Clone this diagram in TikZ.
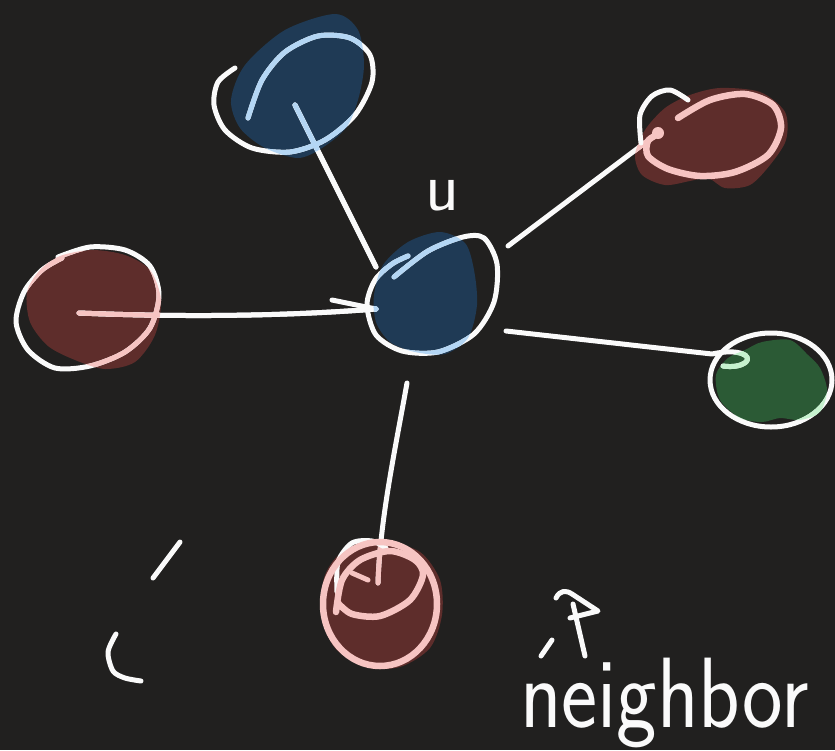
\documentclass[tikz,border=0pt]{standalone}
\usepackage{fontspec}
\definecolor{board}{RGB}{33,32,31}
\definecolor{chalk}{RGB}{250,250,250}
\definecolor{bluefill}{RGB}{31,58,85}
\definecolor{bluelight}{RGB}{180,214,244}
\definecolor{redfill}{RGB}{94,45,43}
\definecolor{pinklight}{RGB}{246,196,194}
\definecolor{greenfill}{RGB}{43,90,53}
\definecolor{greenlight}{RGB}{198,242,206}

% filled patches behind each vertex
\newcommand\patchTop[1]{\path[#1] plot[smooth cycle] coordinates {(335,14) (358,30) (364,65) (358,100) (346,128) (322,148) (298,158) (265,148) (240,128) (231,100) (245,65) (285,30)};}
\newcommand\patchU[1]{\path[#1] plot[smooth cycle] coordinates {(440,232) (465,243) (474,270) (477,305) (468,338) (445,354) (415,352) (390,342) (376,322) (374,295) (383,265) (408,242)};}
\newcommand\patchLeft[1]{\path[#1] plot[smooth cycle] coordinates {(60,256) (92,250) (125,255) (150,270) (161,300) (155,335) (135,362) (105,369) (75,360) (48,346) (30,322) (27,292) (40,270)};}
\newcommand\patchRight[1]{\path[#1] plot[smooth cycle] coordinates {(690,95) (720,88) (760,92) (785,112) (786,140) (770,165) (750,185) (725,188) (708,178) (690,181) (665,185) (642,175) (635,155) (645,130) (665,108)};}
\newcommand\patchGreen[1]{\path[#1] plot[smooth cycle] coordinates {(762,342) (790,340) (808,355) (820,368) (827,390) (820,412) (800,420) (780,418) (762,422) (740,418) (720,400) (716,375) (728,358) (745,350)};}
\newcommand\patchBottom[1]{\path[#1] plot[smooth cycle] coordinates {(385,542) (420,552) (440,580) (442,615) (430,648) (400,667) (365,667) (335,648) (321,615) (325,575) (345,550)};}

% hand strokes that change colour where they cross a patch
\newcommand\strokesTop[1]{%
  \draw[#1] plot[smooth] coordinates {(235,68) (218,82) (214,105) (225,130) (252,148) (290,152) (325,140) (355,115) (372,82) (370,55) (350,38) (318,36) (285,52) (262,80) (248,118)};
  \draw[#1] (A-in) -- (u-nw);}
\newcommand\strokesU[1]{%
  \draw[#1] plot[smooth] coordinates {(394,277) (428,251) (463,237) (484,238) (497,264) (494,302) (474,334) (438,352) (402,351) (376,335) (367,305) (375,280) (392,264) (408,256)};
  \draw[#1] (L-c) .. controls (200,318) and (300,315) .. (u-w);
  \draw[#1] (u-tick) -- (u-w);
  \draw[#1] (A-in) -- (u-nw);}
\newcommand\strokesLeft[1]{%
  \draw[#1] plot[smooth] coordinates {(58,257) (90,247) (125,250) (150,266) (159,295) (150,328) (125,352) (90,366) (55,368) (28,350) (16,322) (24,292) (42,270) (62,258)};
  \draw[#1] (L-c) .. controls (200,318) and (300,315) .. (u-w);}
\newcommand\strokesRight[1]{%
  \draw[#1] (u-ne) -- (R-in);}
\newcommand\strokesGreen[1]{%
  \draw[#1] (G) ellipse [x radius=61, y radius=47];
  \draw[#1] (u-e) -- (G-in) .. controls (740,348) and (752,356) .. (746,362) .. controls (740,367) and (730,367) .. (723,366);}
\newcommand\strokesBottom[1]{%
  \draw[#1] (u-s) .. controls (395,450) and (380,520) .. (B-in);}

\begin{document}
\begin{tikzpicture}[x=1pt,y=-1pt,
  ink/.style={line width=5pt,line cap=round,line join=round},
  chalkline/.style={ink,draw=chalk},
  thickpink/.style={line width=6.5pt,line cap=round,line join=round,draw=pinklight}]

\fill[board] (0,0) rectangle (835,750);
\useasboundingbox (0,0) rectangle (835,750);

% vertices and connector ends
\coordinate (A) at (295,90);
\coordinate (U) at (432,294);
\coordinate (L) at (88,307);
\coordinate (R) at (712,135);
\coordinate (G) at (771,380);
\coordinate (B) at (380,604);
\coordinate (A-in) at (295,105);
\coordinate (u-nw) at (376,267);
\coordinate (L-c) at (79,313);
\coordinate (u-w) at (376,309);
\coordinate (u-tick) at (332,300);
\coordinate (u-ne) at (508,246);
\coordinate (R-in) at (658,133);
\coordinate (u-e) at (506,331);
\coordinate (G-in) at (712,354);
\coordinate (u-s) at (407,383);
\coordinate (B-in) at (378,583);

% colour patches
\patchTop{fill=bluefill}
\patchU{fill=bluefill}
\patchLeft{fill=redfill}
\patchRight{fill=redfill}
\patchGreen{fill=greenfill}
\patchBottom{fill=redfill}

% white strokes
\strokesTop{chalkline}
\strokesU{chalkline}
\strokesLeft{chalkline}
\strokesRight{chalkline}
\strokesGreen{chalkline}
\strokesBottom{chalkline}

% strokes recoloured inside each patch
\begin{scope}\patchTop{clip}\strokesTop{ink,draw=bluelight}\end{scope}
\begin{scope}\patchU{clip}\strokesU{ink,draw=bluelight}\end{scope}
\begin{scope}\patchLeft{clip}\strokesLeft{ink,draw=pinklight}\end{scope}
\begin{scope}\patchRight{clip}\strokesRight{ink,draw=pinklight}\end{scope}
\begin{scope}\patchGreen{clip}\strokesGreen{ink,draw=greenlight}\end{scope}
\begin{scope}\patchBottom{clip}\strokesBottom{ink,draw=pinklight}\end{scope}

% top-right vertex: white hook and pink ring
\draw[chalkline] plot[smooth] coordinates {(641,143) (640,115) (652,96) (670,90) (688,100)};
\draw[thickpink] plot[smooth] coordinates {(678,118) (710,100) (745,94) (773,105) (781,128) (768,155) (735,172) (700,176) (668,169) (648,156) (648,141) (660,133)};
\fill[pinklight] (R-in) circle (6);

% bottom vertex: white arc, pink rings
\draw[chalkline] plot[smooth] coordinates {(337,592) (338,562) (352,543) (372,541) (386,548)};
\draw[thickpink] (B) ellipse [x radius=57, y radius=62];
\draw[thickpink] plot[smooth] coordinates {(336,612) (342,580) (360,560) (390,551) (415,560) (423,575) (410,600) (380,616) (352,614) (338,603)};
\draw[ink,draw=pinklight] (352,573) -- (368,580);

% stray marks
\draw[chalkline] (180,542) -- (153,578);
\draw[chalkline] plot[smooth] coordinates {(116,634) (108,652) (113,671) (125,678) (141,681)};
\draw[chalkline] (556,598) .. controls (560,590) and (566,590) .. (572,594) -- (598,611) -- (570,618);
\draw[chalkline] (573,604) -- (585,656);
\draw[chalkline] (552,640) -- (541,656);

% labels
\node[text=chalk, font=\sffamily\fontsize{70}{70}\selectfont, inner sep=0pt] (ulabel) at (442,196) {u};
\node[text=chalk, font=\sffamily\fontsize{100}{100}\selectfont, anchor=base west, inner sep=0pt, xscale=0.86] (word) at (520,727) {neighbor};
\end{tikzpicture}
\end{document}
